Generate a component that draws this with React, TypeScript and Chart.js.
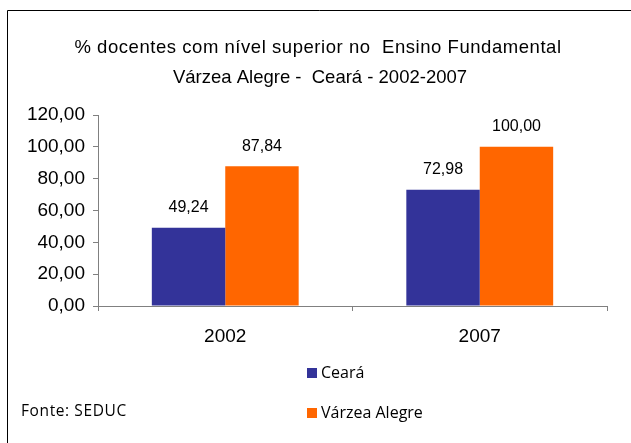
import React, { useEffect, useRef } from "react";
import { Chart, registerables } from "chart.js";

Chart.register(...registerables);

const categories = ["2002", "2007"];
const cearaValues = [49.24, 72.98];
const varzeaValues = [87.84, 100.0];
const seriesNames = ["Ceará", "Várzea Alegre"];
const seriesColors = ["#333399", "#FF6600"];
const titleLines = [
  "% docentes com nível superior no  Ensino Fundamental",
  "Várzea Alegre -  Ceará - 2002-2007",
];
const sourceText = "Fonte: SEDUC";

const fmt = (v: number) => v.toFixed(2).replace(".", ",");

const W = 631;
const H = 443;

const decoPlugin = {
  id: "deco",
  beforeDraw(chart: any) {
    const ctx = chart.ctx;
    ctx.save();
    ctx.fillStyle = "#ffffff";
    ctx.fillRect(0, 0, W, H);
    ctx.strokeStyle = "#000000";
    ctx.lineWidth = 1;
    ctx.beginPath();
    ctx.moveTo(7.5, H);
    ctx.lineTo(7.5, 10.5);
    ctx.lineTo(W, 10.5);
    ctx.stroke();
    ctx.restore();
  },
  afterDraw(chart: any) {
    const ctx = chart.ctx;
    ctx.save();
    // title
    ctx.fillStyle = "#000000";
    ctx.textAlign = "center";
    ctx.textBaseline = "middle";
    ctx.font = '18.5px "Liberation Sans", Arial, sans-serif';
    (ctx as any).letterSpacing = "0.55px";
    ctx.fillText(titleLines[0], 318, 48);
    (ctx as any).letterSpacing = "0px";
    ctx.fillText(titleLines[1], 320, 78);

    // data labels
    ctx.font = '16px "Liberation Sans", Arial, sans-serif';
    chart.data.datasets.forEach((ds: any, di: number) => {
      const meta = chart.getDatasetMeta(di);
      meta.data.forEach((bar: any, i: number) => {
        ctx.fillText(fmt(ds.data[i]), bar.x, bar.y - 20);
      });
    });

    // legend
    ctx.textAlign = "left";
    ctx.font = '16px "Open Sans", sans-serif';
    const legendY = [373, 413];
    seriesNames.forEach((name, i) => {
      ctx.fillStyle = seriesColors[i];
      ctx.fillRect(307, legendY[i] - 5, 10, 10);
      ctx.fillStyle = "#000000";
      ctx.fillText(name, 321, legendY[i]);
    });

    // source
    ctx.font = '15.5px "Open Sans", sans-serif';
    (ctx as any).letterSpacing = "0.6px";
    ctx.fillText(sourceText, 21, 412);
    ctx.restore();
  },
};

export default function App() {
  const ref = useRef<HTMLCanvasElement>(null);
  useEffect(() => {
    if (!ref.current) return;
    const chart = new Chart(ref.current, {
      type: "bar",
      data: {
        labels: categories,
        datasets: [
          {
            label: seriesNames[0],
            data: cearaValues,
            backgroundColor: seriesColors[0],
            barPercentage: 1,
            categoryPercentage: 0.577,
          },
          {
            label: seriesNames[1],
            data: varzeaValues,
            backgroundColor: seriesColors[1],
            barPercentage: 1,
            categoryPercentage: 0.577,
          },
        ],
      },
      options: {
        responsive: false,
        maintainAspectRatio: false,
        animation: false,
        layout: { padding: { top: 115, right: 24, bottom: 0, left: 0 } },
        plugins: {
          legend: { display: false },
          title: { display: false },
          tooltip: { enabled: false },
        },
        scales: {
          x: {
            afterFit: (s: any) => {
              s.height = 137;
            },
            border: { display: true, color: "#808080" },
            grid: {
              drawOnChartArea: false,
              drawTicks: true,
              tickLength: 5,
              color: "#808080",
              offset: true,
            },
            ticks: {
              color: "#000000",
              padding: 14,
              font: { family: '"Liberation Sans", Arial, sans-serif', size: 19 },
            },
          },
          y: {
            min: 0,
            max: 120,
            afterFit: (s: any) => {
              s.width = 98;
            },
            border: { display: true, color: "#808080" },
            grid: {
              drawOnChartArea: false,
              drawTicks: true,
              tickLength: 5,
              color: "#808080",
            },
            ticks: {
              stepSize: 20,
              color: "#000000",
              padding: 8,
              callback: (v: any) => fmt(Number(v)),
              font: { family: '"Liberation Sans", Arial, sans-serif', size: 19 },
            },
          },
        },
      },
      plugins: [decoPlugin],
    });
    return () => chart.destroy();
  }, []);
  return (
    <div style={{ position: "absolute", left: 0, top: 0, width: W, height: H }}>
      <canvas ref={ref} width={W} height={H} style={{ width: W, height: H, display: "block" }} />
    </div>
  );
}
